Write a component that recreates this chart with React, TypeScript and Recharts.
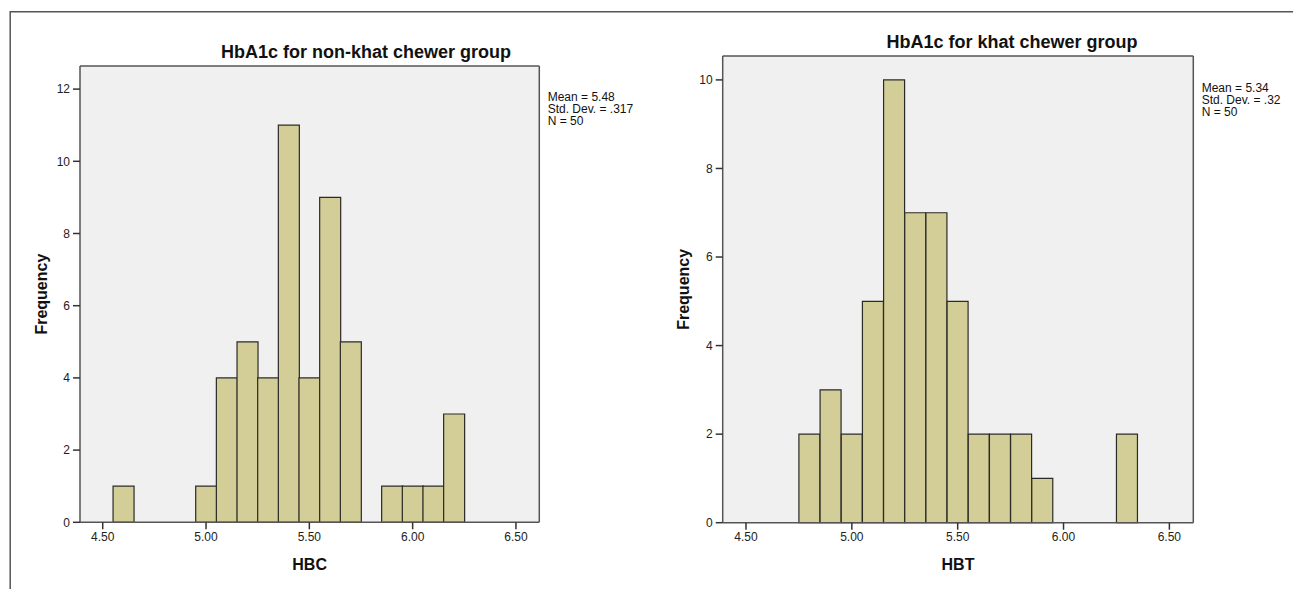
import { BarChart, Bar, XAxis, YAxis, CartesianGrid, ReferenceLine } from 'recharts'

const FONT = 'Arial, "Liberation Sans", sans-serif'

// shared x axis (HbA1c %), bins are 0.1 wide, values are bin centres
const xTicks = [4.5, 5.0, 5.5, 6.0, 6.5]
const xDomain: [number, number] = [4.39, 6.613]

// non-khat chewers (HBC)
const hbcBins = [4.6, 5.0, 5.1, 5.2, 5.3, 5.4, 5.5, 5.6, 5.7, 5.9, 6.0, 6.1, 6.2]
const hbcCounts = [1, 1, 4, 5, 4, 11, 4, 9, 5, 1, 1, 1, 3]
const hbcYTicks = [0, 2, 4, 6, 8, 10, 12]
const hbcStats = ['Mean = 5.48', 'Std. Dev. = .317', 'N = 50']

// khat chewers (HBT)
const hbtBins = [4.8, 4.9, 5.0, 5.1, 5.2, 5.3, 5.4, 5.5, 5.6, 5.7, 5.8, 5.9, 6.3]
const hbtCounts = [2, 3, 2, 5, 10, 7, 7, 5, 2, 2, 2, 1, 2]
const hbtYTicks = [0, 2, 4, 6, 8, 10]
const hbtStats = ['Mean = 5.34', 'Std. Dev. = .32', 'N = 50']

type HistProps = {
  bins: number[]
  counts: number[]
  yTicks: number[]
  yMax: number
  xLabel: string
  width: number
  margin: { top: number; right: number; bottom: number; left: number }
  yAxisWidth: number
  xAxisHeight: number
  yLabelOffset: number
}

const tickStyle = { fill: '#222', fontSize: 12, fontFamily: FONT }
const frameLine = { stroke: '#555', strokeWidth: 1.5 }
const tickLine = { stroke: '#333', strokeWidth: 1.5 }

function Histogram(p: HistProps) {
  const data = p.bins.map((x, i) => ({ x, count: p.counts[i] }))
  return (
    <BarChart width={p.width} height={589} data={data} margin={p.margin} barCategoryGap={0} barGap={0}>
      <CartesianGrid horizontal={false} vertical={false} fill="#f0f0f0" stroke="none" />
      <XAxis
        dataKey="x" type="number" domain={xDomain} ticks={xTicks} interval={0}
        tickFormatter={(v: number) => v.toFixed(2)} height={p.xAxisHeight}
        tickSize={7} tickMargin={3} tick={tickStyle} axisLine={frameLine} tickLine={tickLine}
        label={{ value: p.xLabel, position: 'insideBottom', offset: 19, fill: '#111', fontSize: 16, fontWeight: 700, fontFamily: FONT }}
      />
      <YAxis
        type="number" domain={[0, p.yMax]} ticks={p.yTicks} interval={0} width={p.yAxisWidth}
        tickSize={7} tickMargin={3} tick={tickStyle} axisLine={frameLine} tickLine={tickLine}
        label={{ value: 'Frequency', angle: -90, position: 'insideLeft', offset: p.yLabelOffset, fill: '#111', fontSize: 16, fontWeight: 700, fontFamily: FONT, style: { textAnchor: 'middle' } }}
      />
      <ReferenceLine x={xDomain[1]} {...frameLine} />
      <ReferenceLine y={p.yMax} {...frameLine} />
      <Bar dataKey="count" fill="#d3ce97" stroke="#2b2b26" strokeWidth={1.2} isAnimationActive={false} />
    </BarChart>
  )
}

function Stats({ x, y, lines }: { x: number; y: number; lines: string[] }) {
  return (
    <>
      {lines.map((t, i) => (
        <text key={t} x={x} y={y + i * 12.3} fontSize={12} fill="#111" fontFamily={FONT}>{t}</text>
      ))}
    </>
  )
}

export default function App() {
  return (
    <div style={{ position: 'absolute', left: 0, top: 0, width: 1293, height: 589, background: '#fff', overflow: 'hidden', fontFamily: FONT }}>
      <div style={{ position: 'absolute', left: 0, top: 0 }}>
        <Histogram
          bins={hbcBins} counts={hbcCounts} yTicks={hbcYTicks} yMax={12.64} xLabel="HBC"
          width={650} margin={{ top: 66, right: 110.7, bottom: 0, left: 0 }}
          yAxisWidth={80} xAxisHeight={66.7} yLabelOffset={41}
        />
      </div>
      <div style={{ position: 'absolute', left: 640, top: 0 }}>
        <Histogram
          bins={hbtBins} counts={hbtCounts} yTicks={hbtYTicks} yMax={10.54} xLabel="HBT"
          width={653} margin={{ top: 56, right: 99.7, bottom: 0, left: 0 }}
          yAxisWidth={82.7} xAxisHeight={66.3} yLabelOffset={43}
        />
      </div>
      <svg width={1293} height={589} style={{ position: 'absolute', left: 0, top: 0, pointerEvents: 'none' }}>
        <line x1={10} y1={11.8} x2={1293} y2={11.8} stroke="#555" strokeWidth={1.5} />
        <line x1={10.2} y1={11} x2={10.2} y2={589} stroke="#555" strokeWidth={1.5} />
        <text x={366} y={58.3} textAnchor="middle" fontSize={18} fontWeight={700} fill="#111" fontFamily={FONT}>HbA1c for non-khat chewer group</text>
        <text x={1012} y={48.3} textAnchor="middle" fontSize={18} fontWeight={700} fill="#111" fontFamily={FONT}>HbA1c for khat chewer group</text>
        <Stats x={547.7} y={100.7} lines={hbcStats} />
        <Stats x={1201.7} y={91.7} lines={hbtStats} />
      </svg>
    </div>
  )
}
